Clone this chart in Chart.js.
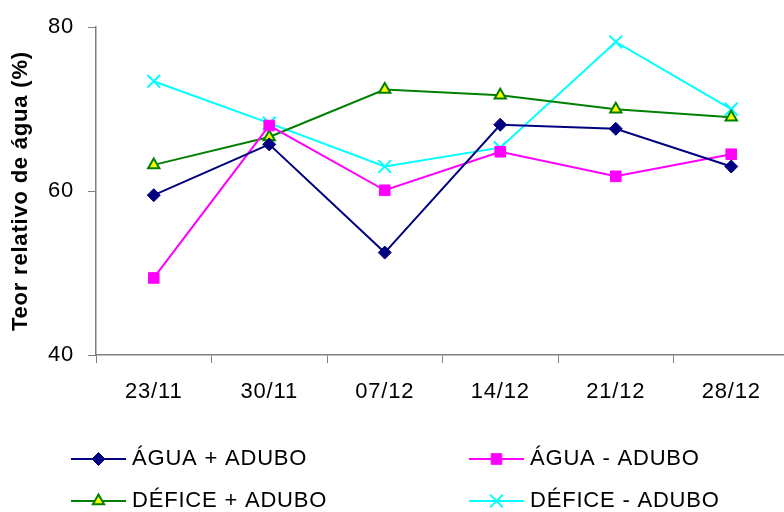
<!DOCTYPE html>
<html>
<head>
<meta charset="utf-8">
<style>
  html, body { margin: 0; padding: 0; background: #ffffff; overflow: hidden; width: 784px; height: 512px; }
  canvas { display: block; }
</style>
<script src="https://cdn.jsdelivr.net/npm/chart.js@4.4.1/dist/chart.umd.min.js"></script>
</head>
<body>
<canvas id="chart" width="800" height="512"></canvas>
<script>
// Sampling dates
const dates = ['23/11', '30/11', '07/12', '14/12', '21/12', '28/12'];

// Relative water content (%) per treatment
const aguaComAdubo   = [59.5, 65.7, 52.5, 68.1, 67.6, 63.0];
const aguaSemAdubo   = [49.4, 68.0, 60.1, 64.8, 61.8, 64.5];
const deficeComAdubo = [63.2, 66.6, 72.4, 71.7, 70.0, 69.0];
const deficeSemAdubo = [73.4, 68.3, 63.0, 65.3, 78.2, 70.0];

const seriesNames = ['ÁGUA + ADUBO', 'ÁGUA - ADUBO', 'DÉFICE + ADUBO', 'DÉFICE - ADUBO'];
const yTicks = [40, 60, 80];

const FONT = '"Liberation Sans", Arial, Helvetica, sans-serif';
const LETTER_SPACING = '0.8px';
Chart.defaults.font.family = FONT;
Chart.defaults.color = '#000000';

const styles = [
  { borderColor: '#000080', pointBackgroundColor: '#000080', pointBorderColor: '#000080', pointStyle: 'rectRot', pointRadius: 6.5, pointBorderWidth: 1 },
  { borderColor: '#FF00FF', pointBackgroundColor: '#FF00FF', pointBorderColor: '#FF00FF', pointStyle: 'rect', pointRadius: 7.5, pointBorderWidth: 1 },
  { borderColor: '#008000', pointBackgroundColor: '#FFFF00', pointBorderColor: '#008000', pointStyle: 'triangle', pointRadius: 6.5, pointBorderWidth: 2 },
  { borderColor: '#00FFFF', pointBackgroundColor: '#00FFFF', pointBorderColor: '#00FFFF', pointStyle: 'crossRot', pointRadius: 9, pointBorderWidth: 2 }
];
const seriesData = [aguaComAdubo, aguaSemAdubo, deficeComAdubo, deficeSemAdubo];

const datasets = seriesData.map((d, i) => Object.assign({
  label: seriesNames[i],
  data: d,
  borderWidth: 2,
  tension: 0,
  fill: false
}, styles[i]));

// Slightly open letter spacing for all canvas text
const textSpacing = {
  id: 'textSpacing',
  beforeDraw(chart) { chart.ctx.letterSpacing = LETTER_SPACING; }
};

// Two-column legend under the plot, drawn with the dataset styles
const legendBox = { colX: [71, 469], rowY: [459, 501], lineLen: 55, textGap: 6 };
const twoColumnLegend = {
  id: 'twoColumnLegend',
  afterDraw(chart) {
    const ctx = chart.ctx;
    chart.data.datasets.forEach((ds, i) => {
      const x0 = legendBox.colX[i % 2];
      const y = legendBox.rowY[Math.floor(i / 2)];
      ctx.save();
      ctx.strokeStyle = ds.borderColor;
      ctx.lineWidth = ds.borderWidth;
      ctx.beginPath();
      ctx.moveTo(x0, y);
      ctx.lineTo(x0 + legendBox.lineLen, y);
      ctx.stroke();
      ctx.fillStyle = ds.pointBackgroundColor;
      ctx.strokeStyle = ds.pointBorderColor;
      ctx.lineWidth = ds.pointBorderWidth;
      Chart.helpers.drawPoint(ctx, {
        pointStyle: ds.pointStyle,
        radius: ds.pointRadius,
        borderWidth: ds.pointBorderWidth,
        rotation: 0
      }, x0 + legendBox.lineLen / 2, y);
      ctx.fillStyle = '#000000';
      ctx.font = '22px ' + FONT;
      ctx.letterSpacing = LETTER_SPACING;
      ctx.textBaseline = 'middle';
      ctx.textAlign = 'left';
      ctx.fillText(ds.label, x0 + legendBox.lineLen + legendBox.textGap, y);
      ctx.restore();
    });
  }
};

new Chart(document.getElementById('chart'), {
  type: 'line',
  data: { labels: dates, datasets: datasets },
  plugins: [textSpacing, twoColumnLegend],
  options: {
    responsive: false,
    animation: false,
    events: [],
    layout: { padding: { top: 27, right: 3, bottom: 0, left: 0 } },
    plugins: {
      legend: { display: false },
      tooltip: { enabled: false }
    },
    scales: {
      x: {
        offset: true,
        grid: { offset: true, drawOnChartArea: false, drawTicks: true, tickLength: 8, color: '#808080', lineWidth: 1 },
        border: { color: '#808080', width: 1.5 },
        ticks: { font: { size: 22 }, color: '#000000', padding: 16, maxRotation: 0 },
        afterFit(scale) { scale.height = 157; }
      },
      y: {
        min: 40,
        max: 80,
        afterBuildTicks(scale) { scale.ticks = yTicks.map(v => ({ value: v })); },
        grid: { drawOnChartArea: false, drawTicks: true, tickLength: 8, color: '#808080', lineWidth: 1 },
        border: { color: '#808080', width: 1.5 },
        ticks: { font: { size: 22 }, color: '#000000', padding: 14 },
        title: {
          display: true,
          text: 'Teor relativo de água (%)',
          font: { size: 22, weight: 'bold' },
          color: '#000000',
          padding: { top: 8, bottom: 0 }
        },
        afterFit(scale) { scale.width = 96; }
      }
    }
  }
});
</script>
</body>
</html>
